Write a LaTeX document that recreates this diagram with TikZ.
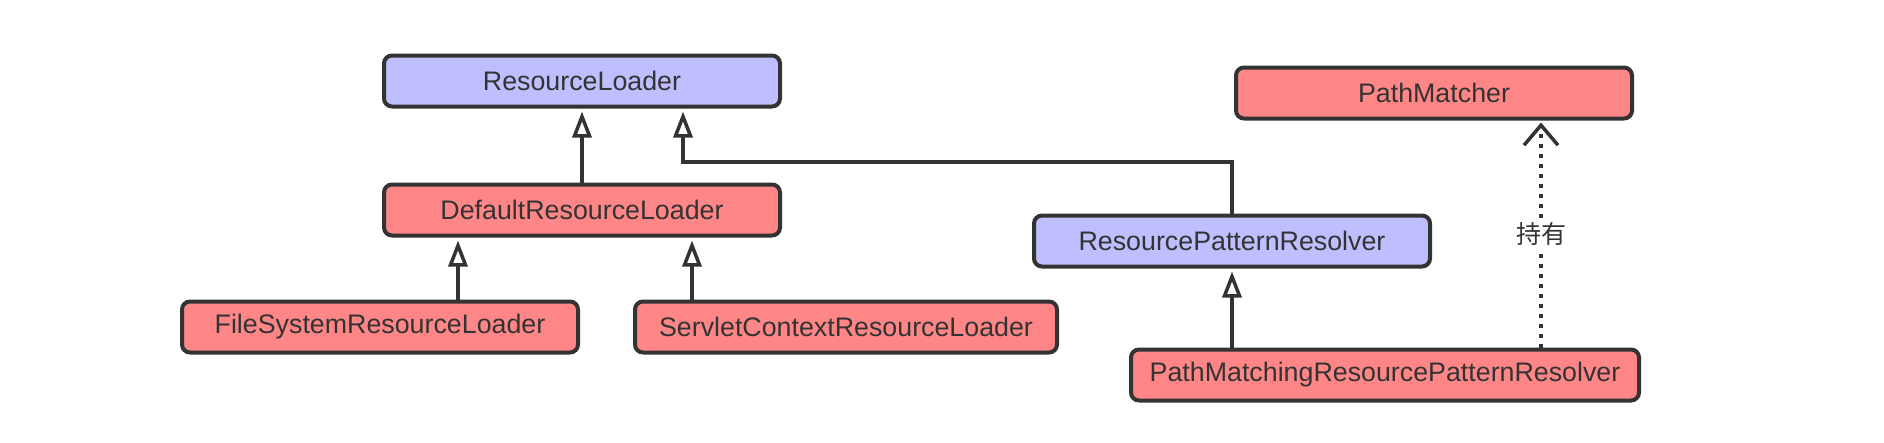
\documentclass[tikz,border=0pt]{standalone}
\usepackage{fontspec}
\setmainfont{Liberation Sans}
\newfontfamily\cjk{Noto Sans CJK SC}
\usetikzlibrary{arrows.meta,calc}
\definecolor{boxblue}{RGB}{191,191,255}
\definecolor{boxred}{RGB}{255,134,134}
\definecolor{edge}{RGB}{51,51,51}
\begin{document}
\begin{tikzpicture}[x=1pt,y=-1pt,
  cls/.style={draw=edge,line width=4pt,rounded corners=8pt,minimum width=396pt,minimum height=51pt,
    inner sep=0pt,font=\fontsize{26.8}{32}\selectfont,text=edge},
  iface/.style={cls,fill=boxblue},
  impl/.style={cls,fill=boxred},
  inh/.style={draw=edge,line width=3.5pt,-{Triangle[open,length=26pt,width=19pt]},shorten >=3pt},
  hold/.style={draw=edge,line width=3.5pt,dash pattern=on 3.5pt off 6.5pt,-{Straight Barb[length=20pt,width=34pt]},shorten >=2pt},
  lbl/.style={fill=white,inner sep=3pt,font=\cjk\fontsize{25}{30}\selectfont,text=edge}]
\useasboundingbox (0,0) rectangle (1884,442);
\node[iface] (rl) at (582,81) {ResourceLoader};
\node[impl] (dfl) at (582,210) {DefaultResourceLoader};
\node[impl] (fs) at (380,327) {FileSystemResourceLoader};
\node[impl,minimum width=422pt] (sc) at (846,327) {ServletContextResourceLoader};
\node[iface] (rpr) at (1232,241) {ResourcePatternResolver};
\node[impl] (pm) at (1434,93) {PathMatcher};
\node[impl,minimum width=508pt] (pmr) at (1385,375) {PathMatchingResourcePatternResolver};
\coordinate (rlb) at ([xshift=101pt]rl.south);
\coordinate (d1) at ([xshift=-124pt]dfl.south);
\coordinate (d2) at ([xshift=110pt]dfl.south);
\coordinate (pmb) at ([xshift=107pt]pm.south);
\draw[inh] (dfl.north) -- (rl.south);
\draw[inh] (rpr.north) -- (rpr.north |- 0,162) -| (rlb);
\draw[inh] (fs.north -| d1) -- (d1);
\draw[inh] (sc.north -| d2) -- (d2);
\draw[inh] (pmr.north -| rpr.south) -- (rpr.south);
\draw[hold] (pmr.north -| pmb) -- node[lbl] {持有} (pmb);
\end{tikzpicture}
\end{document}
